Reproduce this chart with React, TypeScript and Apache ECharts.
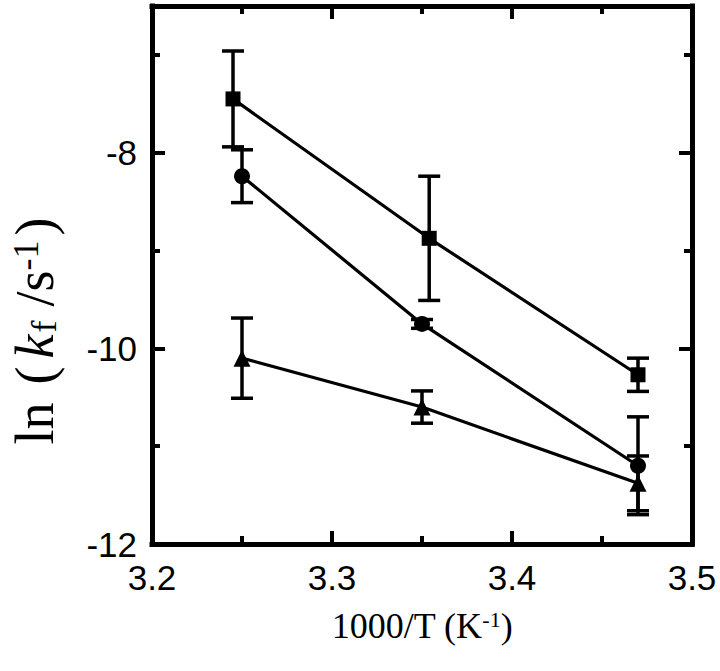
import React, { useEffect, useRef } from "react";
import * as echarts from "echarts";

const xTicks = [3.2, 3.3, 3.4, 3.5];
const squareX = [3.245, 3.354, 3.47];
const squareY = [-7.45, -8.875, -10.27];
const squareErr = [0.49, 0.635, 0.17];
const circleX = [3.25, 3.35, 3.47];
const circleY = [-8.24, -9.75, -11.2];
const circleErr = [0.27, 0.045, 0.5];
const triX = [3.25, 3.35, 3.47];
const triY = [-10.1, -10.6, -11.38];
const triErr = [0.41, 0.165, 0.28];

const BLACK = "#000";
const SANS = "'Liberation Sans', Arial, sans-serif";
const SERIF = "'Liberation Serif', 'Times New Roman', serif";

function pts(xs: number[], ys: number[]) {
  return xs.map((x, i) => [x, ys[i]]);
}
function errs(xs: number[], ys: number[], es: number[]) {
  return xs.map((x, i) => [x, ys[i], es[i]]);
}

const errorRender = (params: any, api: any) => {
  const x = api.value(0);
  const y = api.value(1);
  const e = api.value(2);
  const top = api.coord([x, y + e]);
  const bot = api.coord([x, y - e]);
  const hw = 11;
  const style = { stroke: BLACK, lineWidth: 3.5 };
  return {
    type: "group",
    children: [
      { type: "line", shape: { x1: top[0], y1: top[1], x2: bot[0], y2: bot[1] }, style },
      { type: "line", shape: { x1: top[0] - hw, y1: top[1], x2: top[0] + hw, y2: top[1] }, style },
      { type: "line", shape: { x1: bot[0] - hw, y1: bot[1], x2: bot[0] + hw, y2: bot[1] }, style },
    ],
  };
};

export default function App() {
  const ref = useRef<HTMLDivElement>(null);
  useEffect(() => {
    if (!ref.current) return;
    const chart = echarts.init(ref.current, null, { renderer: "svg" });
    const axisLine = { show: true, lineStyle: { color: BLACK, width: 5, cap: "square" } };
    const xBase = {
      type: "value",
      min: xTicks[0],
      max: xTicks[xTicks.length - 1],
      interval: 0.1,
      axisLine,
      axisTick: { show: true, inside: true, length: 13, lineStyle: { color: BLACK, width: 4 } },
      minorTick: { show: true, splitNumber: 2, length: 8, lineStyle: { color: BLACK, width: 4 } },
      splitLine: { show: false },
      minorSplitLine: { show: false },
    };
    const yMajor = {
      type: "value",
      min: -12,
      max: -6.5,
      interval: 2,
      axisLine,
      axisTick: { show: true, inside: true, length: 13, lineStyle: { color: BLACK, width: 4 } },
      splitLine: { show: false },
    };
    const yMinor = {
      type: "value",
      min: -12,
      max: -6.5,
      interval: 1,
      axisLine: { show: false },
      axisTick: { show: true, inside: true, length: 8, lineStyle: { color: BLACK, width: 4 } },
      axisLabel: { show: false },
      splitLine: { show: false },
    };
    const lineSeries = (data: number[][], symbol: string, size: number) => ({
      type: "line",
      data,
      symbol,
      symbolSize: size,
      xAxisIndex: 0,
      yAxisIndex: 0,
      lineStyle: { color: BLACK, width: 3.2 },
      itemStyle: { color: BLACK },
      z: 3,
    });
    const errSeries = (data: number[][]) => ({
      type: "custom",
      data,
      xAxisIndex: 0,
      yAxisIndex: 0,
      renderItem: errorRender,
      z: 2,
    });
    const T = { fontFamily: SERIF, color: BLACK };
    chart.setOption({
      animation: false,
      backgroundColor: "#fff",
      grid: {
        left: 152,
        right: 28,
        top: 6,
        bottom: 127,
        containLabel: false,
        outerBoundsMode: "none",
      },
      xAxis: [
        {
          ...xBase,
          position: "bottom",
          axisLabel: {
            show: true,
            color: BLACK,
            fontFamily: SANS,
            fontSize: 35,
            margin: 16,
            formatter: (v: number) => v.toFixed(1),
          },
          name: "{n|1000/T (K}{sup|-1}{n|)}",
          nameLocation: "middle",
          nameGap: 64,
          nameTextStyle: {
            rich: {
              n: { ...T, fontSize: 36 },
              sup: { ...T, fontSize: 22, verticalAlign: "top" },
            },
          },
        },
        { ...xBase, position: "top", axisLabel: { show: false } },
      ],
      yAxis: [
        {
          ...yMajor,
          position: "left",
          axisLabel: {
            show: true,
            color: BLACK,
            fontFamily: SANS,
            fontSize: 35,
            margin: 15,
            formatter: (v: number) => (Math.abs(v % 2) < 1e-9 ? String(v) : ""),
          },
          name: "{n|ln}{p|(}{i|k}{sub|f}{sl|/s}{sup|-1}{c|)}",
          nameLocation: "middle",
          nameRotate: 90,
          nameGap: 90,
          nameTextStyle: {
            padding: [0, 112, 0, 0],
            rich: {
              n: { ...T, fontSize: 54 },
              p: { ...T, fontSize: 54, padding: [0, 0, 0, 18] },
              i: { ...T, fontSize: 54, fontStyle: "italic", padding: [0, 0, 0, 8] },
              sub: { ...T, fontSize: 36, verticalAlign: "bottom", padding: [0, 0, 0, 2] },
              sl: { ...T, fontSize: 54, padding: [0, 0, 0, 14] },
              sup: { ...T, fontSize: 36, verticalAlign: "top" },
              c: { ...T, fontSize: 54, padding: [0, 0, 0, 5] },
            },
          },
        },
        { ...yMinor, position: "left" },
        { ...yMajor, position: "right", axisLabel: { show: false } },
        { ...yMinor, position: "right" },
      ],
      series: [
        errSeries(errs(squareX, squareY, squareErr)),
        errSeries(errs(circleX, circleY, circleErr)),
        errSeries(errs(triX, triY, triErr)),
        lineSeries(pts(squareX, squareY), "rect", 15),
        lineSeries(pts(circleX, circleY), "circle", 16),
        lineSeries(pts(triX, triY), "triangle", 17),
      ],
    });
    return () => chart.dispose();
  }, []);
  return (
    <div
      ref={ref}
      style={{ position: "fixed", left: 0, top: 0, width: 720, height: 671, background: "#fff" }}
    />
  );
}
